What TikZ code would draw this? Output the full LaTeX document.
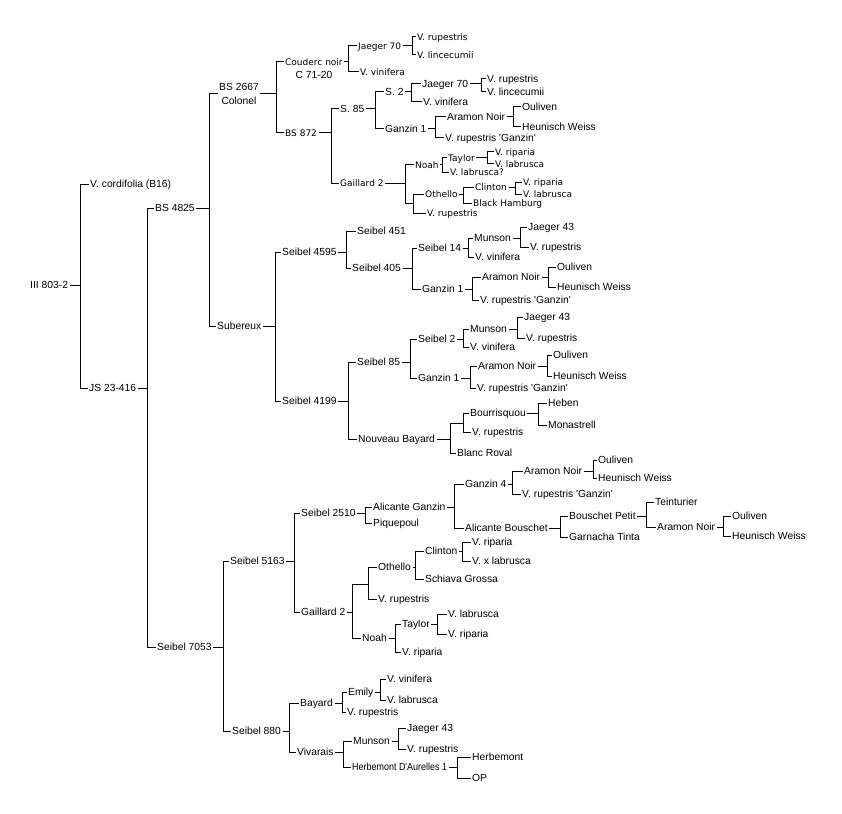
\documentclass[tikz,border=0pt]{standalone}
\usepackage{fontspec}
\newfontfamily\regf{Liberation Sans}
\newfontfamily\smf{DejaVu Sans}
\newcommand\q{\textquotesingle}
\newcommand\pedbr[4]{%
  \coordinate (vx) at (#2,0);
  \draw[link] (#1.east) -- (#1.east -| vx);
  \draw[link] (#3.west) -- (#3.west -| vx) -- (#4.west -| vx) -- (#4.west);
}
\begin{document}
\begin{tikzpicture}[x=1pt,y=-1pt,
  lab/.style={anchor=west, xshift=-1.5pt, inner xsep=1.5pt, inner ysep=0pt,
    text height=7.4pt, text depth=0pt, font=\fontsize{10.3}{12}\regf},
  sm/.style={lab, text height=6.6pt, font=\fontsize{9}{11}\smf},
  cross/.style={inner sep=0pt, minimum size=0pt},
  link/.style={draw=black, line width=1pt}]
\fill[white] (0,0) rectangle (842,813);
\useasboundingbox (0,0) rectangle (842,813);

% ---- left trunk
\node[lab] (root) at (30,285) {III 803-2};
\node[lab] (cordif) at (90,184) {V. cordifolia (B16)};
\node[lab] (js) at (89,388) {JS 23-416};
\node[lab] (bs4825) at (155,208) {BS 4825};
\node[lab] (s7053) at (157,647) {Seibel 7053};
\node[font=\fontsize{10.3}{14}\regf, align=center, inner sep=1.5pt] (bs2667) at (239,94) {BS 2667\\Colonel};
\node[lab] (subereux) at (217,326) {Subereux};

% ---- BS 2667 subtree
\node[sm] (couderc) at (285,62) {Couderc noir};
\node[font=\fontsize{10.3}{12}\regf, inner sep=0pt] (c7120) at (314,75) {C 71-20};
\node[sm] (jaeger70a) at (358,46) {Jaeger 70};
\node[sm] (vrupA) at (417,37) {V. rupestris};
\node[sm] (vlincA) at (417,55) {V. lincecumii};
\node[sm] (vvinA) at (360,72) {V. vinifera};
\node[sm] (bs872) at (285,133) {BS 872};
\node[lab] (s85) at (340,109) {S. 85};
\node[lab] (s2) at (385,92) {S. 2};
\node[lab] (jaeger70b) at (422,84) {Jaeger 70};
\node[lab] (vrupC) at (487,79) {V. rupestris};
\node[lab] (vlincC) at (487,92) {V. lincecumii};
\node[lab] (vvinC) at (423,102) {V. vinifera};
\node[lab] (ganzin1a) at (385,129) {Ganzin 1};
\node[lab] (aramonC) at (447,117) {Aramon Noir};
\node[lab] (oulC) at (522,107) {Ouliven};
\node[lab] (heunC) at (522,127) {Heunisch Weiss};
\node[lab] (vrgC) at (445,138) {V. rupestris \q Ganzin\q};
\node[sm] (gaillardA) at (340,183) {Gaillard 2};
\node[sm] (noahA) at (415,165) {Noah};
\node[sm] (taylorA) at (448,158) {Taylor};
\node[sm] (vripA) at (495,152) {V. riparia};
\node[sm] (vlabA) at (495,164) {V. labrusca};
\node[sm] (vlabQ) at (450,172) {V. labrusca?};
\node[cross] (crossA) at (405,203) {};
\node[sm] (othelloA) at (425,194) {Othello};
\node[sm] (clintonA) at (475,187) {Clinton};
\node[sm] (vripA2) at (523,182) {V. riparia};
\node[sm] (vlabA2) at (523,194) {V. labrusca};
\node[sm] (blackH) at (473,203) {Black Hamburg};
\node[sm] (vrupA3) at (427,213) {V. rupestris};

% ---- Subereux subtree
\node[lab] (s4595) at (282,252) {Seibel 4595};
\node[lab] (s451) at (357,231) {Seibel 451};
\node[lab] (s405) at (352,268) {Seibel 405};
\node[lab] (s14) at (418,248) {Seibel 14};
\node[lab] (munsonA) at (474,238) {Munson};
\node[lab] (j43A) at (528,227) {Jaeger 43};
\node[lab] (vrupD) at (530,247) {V. rupestris};
\node[lab] (vvinD) at (475,257) {V. vinifera};
\node[lab] (ganzin1b) at (422,289) {Ganzin 1};
\node[lab] (aramonD) at (482,277) {Aramon Noir};
\node[lab] (oulD) at (557,267) {Ouliven};
\node[lab] (heunD) at (557,287) {Heunisch Weiss};
\node[lab] (vrgD) at (480,300) {V. rupestris \q Ganzin\q};
\node[lab] (s4199) at (282,401) {Seibel 4199};
\node[lab] (s85b) at (357,362) {Seibel 85};
\node[lab] (s2b) at (418,339) {Seibel 2};
\node[lab] (munsonB) at (470,329) {Munson};
\node[lab] (j43B) at (524,317) {Jaeger 43};
\node[lab] (vrupE) at (526,338) {V. rupestris};
\node[lab] (vvinE2) at (470,347) {V. vinifera};
\node[lab] (ganzin1c) at (418,378) {Ganzin 1};
\node[lab] (aramonE) at (478,366) {Aramon Noir};
\node[lab] (oulE) at (553,355) {Ouliven};
\node[lab] (heunE) at (553,376) {Heunisch Weiss};
\node[lab] (vrgE) at (477,388) {V. rupestris \q Ganzin\q};
\node[lab] (nouveau) at (358,439) {Nouveau Bayard};
\node[cross] (crossC) at (450,423) {};
\node[lab] (bourr) at (470,413) {Bourrisquou};
\node[lab] (heben) at (548,403) {Heben};
\node[lab] (monast) at (548,425) {Monastrell};
\node[lab] (vrupF) at (472,432) {V. rupestris};
\node[lab] (blancR) at (457,453) {Blanc Roval};

% ---- Seibel 7053 subtree
\node[lab] (s5163) at (230,561) {Seibel 5163};
\node[lab] (s2510) at (301,513) {Seibel 2510};
\node[lab] (alicanteG) at (373,507) {Alicante Ganzin};
\node[lab] (piquepoul) at (373,523) {Piquepoul};
\node[lab] (ganzin4) at (465,484) {Ganzin 4};
\node[lab] (aramonA) at (524,471) {Aramon Noir};
\node[lab] (oulA) at (598,460) {Ouliven};
\node[lab] (heunA) at (598,478) {Heunisch Weiss};
\node[lab] (vrgA) at (522,494) {V. rupestris \q Ganzin\q};
\node[lab] (alicanteB) at (465,528) {Alicante Bouschet};
\node[lab] (bouschetP) at (569,516) {Bouschet Petit};
\node[lab] (teint) at (655,502) {Teinturier};
\node[lab] (aramonB) at (657,527) {Aramon Noir};
\node[lab] (oulB) at (732,516) {Ouliven};
\node[lab] (heunB) at (732,536) {Heunisch Weiss};
\node[lab] (garnacha) at (569,537) {Garnacha Tinta};
\node[lab] (gaillardB) at (301,612) {Gaillard 2};
\node[cross] (crossB) at (352,584) {};
\node[lab] (othelloB) at (378,567) {Othello};
\node[lab] (clintonB) at (425,551) {Clinton};
\node[lab] (vripB1) at (472,542) {V. riparia};
\node[lab] (vxlab) at (472,561) {V. x labrusca};
\node[lab] (schiava) at (425,579) {Schiava Grossa};
\node[lab] (vrupB) at (378,599) {V. rupestris};
\node[lab] (noahB) at (362,638) {Noah};
\node[lab] (taylorB) at (402,624) {Taylor};
\node[lab] (vlabB) at (448,614) {V. labrusca};
\node[lab] (vripB2) at (448,634) {V. riparia};
\node[lab] (vripB3) at (402,652) {V. riparia};
\node[lab] (s880) at (232,731) {Seibel 880};
\node[lab] (bayard) at (300,703) {Bayard};
\node[lab] (emily) at (348,692) {Emily};
\node[lab] (vvinE) at (387,679) {V. vinifera};
\node[lab] (vlabE) at (387,700) {V. labrusca};
\node[lab] (vrupBay) at (347,712) {V. rupestris};
\node[lab] (vivarais) at (297,752) {Vivarais};
\node[lab] (munsonV) at (353,741) {Munson};
\node[lab] (jaeger43V) at (407,728) {Jaeger 43};
\node[lab] (vrupV) at (407,749) {V. rupestris};
\node[lab] (herbDA) at (352,767) {\scalebox{0.87}[1]{Herbemont D\q Aurelles 1}};
\node[lab] (herbemont) at (472,757) {Herbemont};
\node[lab] (op) at (472,778) {OP};

% ---- connectors
\pedbr{root}{80}{cordif}{js}
\pedbr{js}{147}{bs4825}{s7053}
\pedbr{bs4825}{209}{bs2667}{subereux}
\pedbr{bs2667}{276}{couderc}{bs872}
\pedbr{couderc}{348}{jaeger70a}{vvinA}
\pedbr{jaeger70a}{412}{vrupA}{vlincA}
\pedbr{bs872}{331}{s85}{gaillardA}
\pedbr{s85}{375}{s2}{ganzin1a}
\pedbr{s2}{411}{jaeger70b}{vvinC}
\pedbr{jaeger70b}{481}{vrupC}{vlincC}
\pedbr{ganzin1a}{435}{aramonC}{vrgC}
\pedbr{aramonC}{513}{oulC}{heunC}
\pedbr{gaillardA}{405}{noahA}{crossA}
\pedbr{noahA}{442}{taylorA}{vlabQ}
\pedbr{taylorA}{487}{vripA}{vlabA}
\pedbr{crossA}{413}{othelloA}{vrupA3}
\pedbr{othelloA}{463}{clintonA}{blackH}
\pedbr{clintonA}{515}{vripA2}{vlabA2}

\pedbr{subereux}{275}{s4595}{s4199}
\pedbr{s4595}{346}{s451}{s405}
\pedbr{s405}{412}{s14}{ganzin1b}
\pedbr{s14}{468}{munsonA}{vvinD}
\pedbr{munsonA}{520}{j43A}{vrupD}
\pedbr{ganzin1b}{472}{aramonD}{vrgD}
\pedbr{aramonD}{548}{oulD}{heunD}
\pedbr{s4199}{348}{s85b}{nouveau}
\pedbr{s85b}{410}{s2b}{ganzin1c}
\pedbr{s2b}{463}{munsonB}{vvinE2}
\pedbr{munsonB}{517}{j43B}{vrupE}
\pedbr{ganzin1c}{470}{aramonE}{vrgE}
\pedbr{aramonE}{547}{oulE}{heunE}
\pedbr{nouveau}{450}{crossC}{blancR}
\pedbr{crossC}{463}{bourr}{vrupF}
\pedbr{bourr}{538}{heben}{monast}

\pedbr{s7053}{223}{s5163}{s880}
\pedbr{s5163}{294}{s2510}{gaillardB}
\pedbr{s2510}{365}{alicanteG}{piquepoul}
\pedbr{alicanteG}{454}{ganzin4}{alicanteB}
\pedbr{ganzin4}{512}{aramonA}{vrgA}
\pedbr{aramonA}{593}{oulA}{heunA}
\pedbr{alicanteB}{560}{bouschetP}{garnacha}
\pedbr{bouschetP}{646}{teint}{aramonB}
\pedbr{aramonB}{723}{oulB}{heunB}
\pedbr{gaillardB}{352}{crossB}{noahB}
\pedbr{crossB}{368}{othelloB}{vrupB}
\pedbr{othelloB}{415}{clintonB}{schiava}
\pedbr{clintonB}{462}{vripB1}{vxlab}
\pedbr{noahB}{395}{taylorB}{vripB3}
\pedbr{taylorB}{437}{vlabB}{vripB2}
\pedbr{s880}{289}{bayard}{vivarais}
\pedbr{bayard}{342}{emily}{vrupBay}
\pedbr{emily}{380}{vvinE}{vlabE}
\pedbr{vivarais}{343}{munsonV}{herbDA}
\pedbr{munsonV}{398}{jaeger43V}{vrupV}
\pedbr{herbDA}{457}{herbemont}{op}
\end{tikzpicture}
\end{document}
